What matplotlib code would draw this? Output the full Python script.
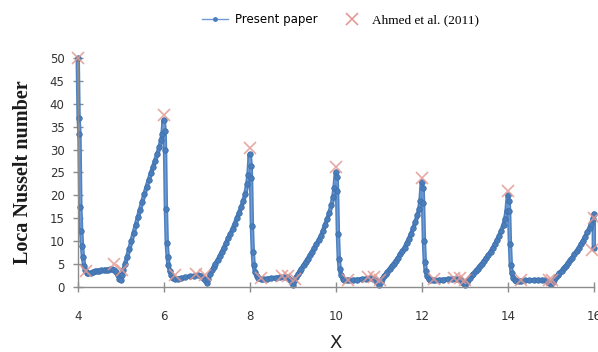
import matplotlib
matplotlib.use("Agg")
import matplotlib.pyplot as plt
from matplotlib.lines import Line2D

# ---- Present paper (local Nusselt number along X) ----
x_present = [
    4.00, 4.02, 4.04, 4.06, 4.08, 4.10, 4.12, 4.15, 4.18, 4.21, 4.25, 4.30, 4.35, 4.40, 4.45, 4.50,
    4.55, 4.60, 4.65, 4.70, 4.75, 4.80, 4.85, 4.90, 4.94, 4.97, 5.00, 5.03, 5.06, 5.10, 5.15, 5.20,
    5.25, 5.30, 5.35, 5.40, 5.45, 5.50, 5.55, 5.60, 5.65, 5.70, 5.75, 5.80, 5.85, 5.90, 5.94, 5.97, 6.00,
    6.02, 6.03, 6.05, 6.07, 6.09, 6.11, 6.14, 6.18, 6.22, 6.27, 6.32, 6.40, 6.50, 6.60, 6.70, 6.80,
    6.87, 6.92, 6.96, 7.00, 7.04, 7.08, 7.12, 7.16, 7.20, 7.25, 7.30, 7.35, 7.40, 7.45, 7.50, 7.55,
    7.60, 7.65, 7.70, 7.75, 7.80, 7.85, 7.90, 7.94, 7.97, 8.00,
    8.02, 8.03, 8.05, 8.07, 8.09, 8.12, 8.16, 8.20, 8.25, 8.30, 8.40, 8.50, 8.60, 8.70, 8.80,
    8.87, 8.92, 8.96, 9.00, 9.04, 9.08, 9.12, 9.16, 9.20, 9.25, 9.30, 9.35, 9.40, 9.45, 9.50, 9.55,
    9.60, 9.65, 9.70, 9.75, 9.80, 9.85, 9.90, 9.94, 9.97, 10.00,
    10.02, 10.03, 10.05, 10.07, 10.09, 10.12, 10.16, 10.20, 10.25, 10.30, 10.40, 10.50, 10.60, 10.70, 10.80,
    10.87, 10.92, 10.96, 11.00, 11.04, 11.08, 11.12, 11.16, 11.20, 11.25, 11.30, 11.35, 11.40, 11.45, 11.50, 11.55,
    11.60, 11.65, 11.70, 11.75, 11.80, 11.85, 11.90, 11.94, 11.97, 12.00,
    12.02, 12.03, 12.05, 12.07, 12.09, 12.12, 12.16, 12.20, 12.25, 12.30, 12.40, 12.50, 12.60, 12.70, 12.80,
    12.87, 12.92, 12.96, 13.00, 13.04, 13.08, 13.12, 13.16, 13.20, 13.25, 13.30, 13.35, 13.40, 13.45, 13.50, 13.55,
    13.60, 13.65, 13.70, 13.75, 13.80, 13.85, 13.90, 13.94, 13.97, 14.00,
    14.02, 14.03, 14.05, 14.07, 14.09, 14.12, 14.16, 14.20, 14.25, 14.30, 14.40, 14.50, 14.60, 14.70, 14.80,
    14.87, 14.92, 14.96, 15.00, 15.04, 15.08, 15.12, 15.16, 15.20, 15.25, 15.30, 15.35, 15.40, 15.45, 15.50, 15.55,
    15.60, 15.65, 15.70, 15.75, 15.80, 15.85, 15.90, 15.94, 15.97, 16.00, 16.00,
]
nu_present = [
    50.0, 37.0, 33.5, 17.5, 12.2, 9.0, 6.5, 4.6, 3.6, 3.1, 3.0, 3.1, 3.3, 3.4, 3.5, 3.5,
    3.6, 3.6, 3.7, 3.7, 3.8, 3.8, 3.7, 3.3, 2.5, 1.8, 1.5, 2.5, 3.6, 5.0, 6.6, 8.3,
    10.0, 11.8, 13.5, 15.2, 16.9, 18.6, 20.2, 21.8, 23.3, 24.8, 26.2, 27.6, 29.0, 30.5, 32.0, 33.5, 36.5,
    34.0, 30.0, 17.0, 9.5, 6.6, 4.8, 3.4, 2.5, 2.0, 1.8, 1.8, 1.9, 2.1, 2.3, 2.4, 2.5,
    2.4, 2.0, 1.4, 0.8, 1.8, 2.8, 3.6, 4.3, 5.0, 5.8, 6.7, 7.6, 8.6, 9.6, 10.6, 11.6,
    12.7, 13.8, 15.0, 16.2, 17.4, 18.8, 20.4, 22.4, 24.5, 29.0,
    26.5, 23.8, 13.2, 7.7, 4.8, 3.2, 2.3, 1.9, 1.7, 1.7, 1.8, 1.9, 2.0, 2.1, 2.2,
    2.1, 1.8, 1.2, 0.4, 1.3, 2.1, 2.8, 3.4, 4.0, 4.7, 5.4, 6.2, 6.9, 7.7, 8.5, 9.3,
    10.2, 11.1, 12.2, 13.5, 14.8, 16.2, 17.8, 19.6, 21.5, 25.0,
    24.0, 21.0, 11.5, 6.2, 4.0, 2.6, 1.8, 1.5, 1.4, 1.4, 1.5, 1.6, 1.7, 1.8, 1.9,
    1.8, 1.5, 1.0, 0.4, 1.1, 1.7, 2.3, 2.8, 3.3, 3.9, 4.5, 5.1, 5.7, 6.4, 7.1, 7.8,
    8.6, 9.5, 10.5, 11.6, 12.8, 14.1, 15.6, 17.0, 18.8, 23.0,
    21.6, 18.3, 10.0, 5.5, 3.5, 2.3, 1.7, 1.5, 1.4, 1.4, 1.5, 1.6, 1.7, 1.8, 1.8,
    1.7, 1.4, 0.9, 0.4, 1.0, 1.5, 2.0, 2.5, 2.9, 3.5, 4.0, 4.6, 5.1, 5.7, 6.3, 7.0,
    7.7, 8.5, 9.3, 10.2, 11.2, 12.3, 13.6, 14.9, 16.5, 20.0,
    18.7, 16.5, 9.3, 4.8, 3.0, 2.0, 1.5, 1.3, 1.3, 1.3, 1.4, 1.4, 1.5, 1.5, 1.5,
    1.4, 1.2, 0.9, 0.6, 1.1, 1.6, 2.1, 2.6, 3.0, 3.5, 4.1, 4.6, 5.2, 5.8, 6.4, 7.1,
    7.8, 8.5, 9.3, 10.1, 11.0, 11.9, 12.9, 13.8, 14.8, 16.0, 8.5,
]

# ---- Ahmed et al. (2011) ----
x_ahmed = [4.00, 4.19, 4.84, 5.02, 6.00, 6.27, 6.75, 6.95, 8.00, 8.25, 8.75, 8.90, 9.05,
           10.00, 10.28, 10.74, 10.88, 11.03, 12.00, 12.28, 12.74, 12.90, 13.00,
           14.00, 14.30, 14.95, 15.02, 16.00, 15.96]
nu_ahmed = [50.0, 3.4, 5.0, 3.6, 37.5, 2.5, 2.8, 2.6, 30.3, 2.0, 2.4, 2.4, 1.8,
            26.2, 1.6, 2.2, 2.2, 1.6, 23.8, 1.8, 2.0, 2.0, 1.5,
            21.0, 1.6, 1.6, 1.6, 15.0, 8.0]

x_ticks = [4, 6, 8, 10, 12, 14, 16]
y_ticks = [0, 5, 10, 15, 20, 25, 30, 35, 40, 45, 50]

blue = "#4A7EBB"
red = "#E39A94"

fig = plt.figure(figsize=(5.98, 3.52), dpi=100)
ax = fig.add_axes([0.130, 0.185, 0.863, 0.650])

# thick band under the markers (dense-marker look of the original)
ax.plot(x_present, nu_present, color="#4F82C0", lw=3.2, solid_joinstyle="round",
        solid_capstyle="round", zorder=2, clip_on=False)
ax.plot(x_present, nu_present, color="#6F9BD6", lw=1.0, marker="o", ms=4.0,
        mfc=blue, mec="#3C6DAA", mew=0.5, zorder=2, clip_on=False)
ax.plot(x_ahmed, nu_ahmed, ls="none", marker="x", ms=9, mew=1.2, color=red,
        alpha=0.85, zorder=3, clip_on=False)

ax.set_xlim(4, 16)
ax.set_ylim(0, 50)
ax.set_xticks(x_ticks)
ax.set_yticks(y_ticks)
for s in ["top", "right"]:
    ax.spines[s].set_visible(False)
for s in ["left", "bottom"]:
    ax.spines[s].set_color("#8C8C8C")
    ax.spines[s].set_linewidth(1.0)
ax.tick_params(axis="x", direction="inout", length=7, width=1, color="#8C8C8C",
               pad=13, labelsize=8.5, labelcolor="#333333")
ax.tick_params(axis="y", direction="inout", length=7, width=1, color="#8C8C8C",
               pad=6, labelsize=8.5, labelcolor="#333333")

ax.set_xlabel("X", fontsize=13, color="#222222", labelpad=8)
ax.set_ylabel("Loca Nusselt number", fontsize=14.5, fontweight="bold",
              family="Liberation Serif", color="#1a1a1a", labelpad=12)

h1 = Line2D([], [], color="#6F9BD6", lw=1.0, marker="o", ms=2.5, mfc=blue, mec=blue)
h2 = Line2D([], [], ls="none", marker="x", ms=9, mew=1.2, color=red)
leg = fig.legend([h1, h2], ["Present paper", "Ahmed et al. (2011)"], loc="center",
                 bbox_to_anchor=(0.57, 0.945), ncol=2, frameon=False, fontsize=8.5,
                 handlelength=2.2, columnspacing=1.8, handletextpad=0.6)
leg.get_texts()[1].set_fontfamily("Liberation Serif")
leg.get_texts()[1].set_fontsize(9.5)

fig.savefig("out.png", dpi=100)
